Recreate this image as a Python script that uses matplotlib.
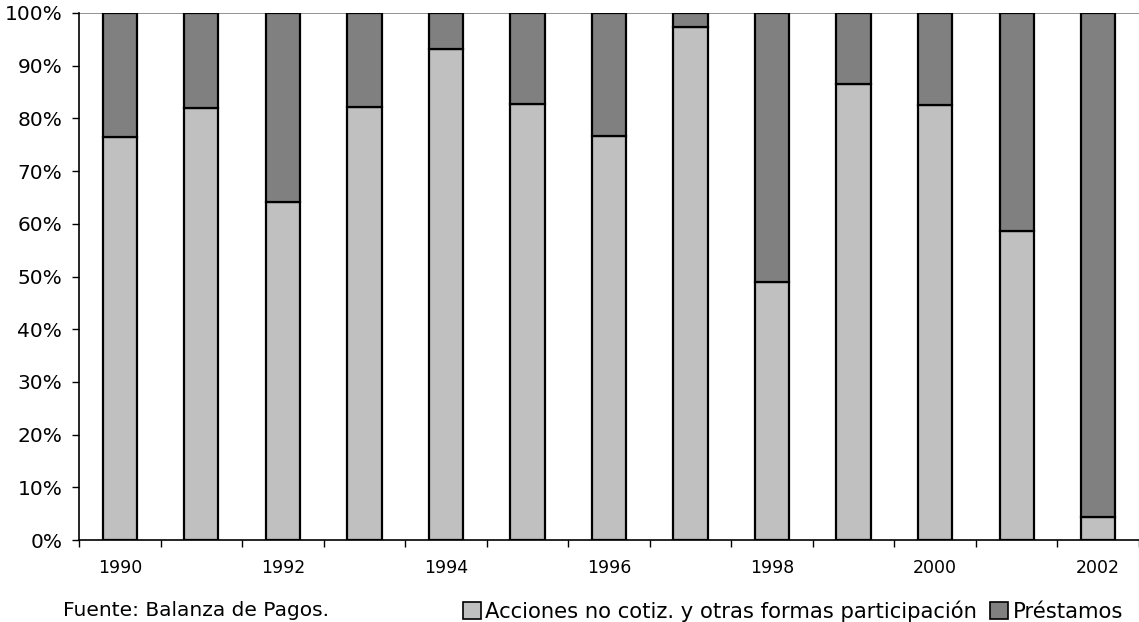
import numpy as np
import matplotlib.pyplot as plt
from matplotlib.patches import Patch
from matplotlib.ticker import FixedLocator, PercentFormatter

years = [1990, 1991, 1992, 1993, 1994, 1995, 1996, 1997, 1998, 1999, 2000, 2001, 2002]
acciones = [76.5, 82.0, 64.1, 82.2, 93.2, 82.7, 76.6, 97.3, 49.0, 86.5, 82.5, 58.6, 4.4]
prestamos = [100 - a for a in acciones]

labels = ['Acciones no cotiz. y otras formas participación', 'Préstamos']
light, dark = '#c0c0c0', '#808080'

plt.rcParams['font.family'] = ['DejaVu Sans']

fig = plt.figure(figsize=(11.39, 6.22), dpi=100)
ax = fig.add_axes([79/1139, 1 - 540/622, 1 - 79/1139, 527/622])

x = np.arange(len(years))
ax.bar(x, acciones, width=0.42, color=light, edgecolor='black', linewidth=1.6, zorder=3)
ax.bar(x, prestamos, width=0.42, bottom=acciones, color=dark, edgecolor='black', linewidth=1.6, zorder=3)

ax.set_xlim(-0.5, len(years) - 0.5)
ax.set_ylim(0, 100)
ax.set_yticks(np.arange(0, 101, 10))
ax.yaxis.set_major_formatter(PercentFormatter(decimals=0))
ax.axhline(100, color='#808080', lw=1.2, zorder=1)

ax.set_xticks(x[::2])
ax.set_xticklabels([str(y) for y in years[::2]], fontsize=12.5)
ax.xaxis.set_minor_locator(FixedLocator(np.arange(-0.5, len(years), 1.0)))
ax.tick_params(axis='x', which='major', length=0, pad=14)
ax.tick_params(axis='x', which='minor', length=5, width=1, direction='out')
ax.tick_params(axis='y', labelsize=14.5, length=5, width=1, direction='out', pad=7)

for s in ['top', 'right']:
    ax.spines[s].set_visible(False)
ax.spines['left'].set_linewidth(1.2)
ax.spines['bottom'].set_linewidth(1.2)

fig.text(63/1139, 1 - 611/622, 'Fuente: Balanza de Pagos.', fontsize=14.5, va='center')

handles = [Patch(facecolor=light, edgecolor='black', lw=1.2),
           Patch(facecolor=dark, edgecolor='black', lw=1.2)]
fig.legend(handles, labels, loc='center right', bbox_to_anchor=(1123/1139, 1 - 611/622),
           ncol=2, frameon=False, fontsize=15.2, handlelength=0.85, handleheight=0.85,
           handletextpad=0.2, columnspacing=0.65, borderaxespad=0, borderpad=0)

fig.savefig('out.png', dpi=100)
